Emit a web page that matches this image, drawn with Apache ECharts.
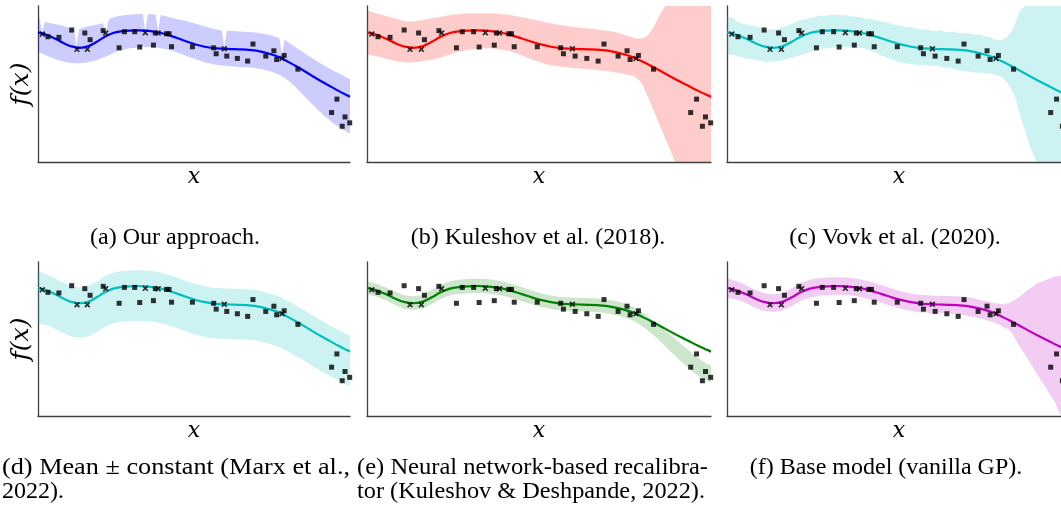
<!DOCTYPE html>
<html><head><meta charset="utf-8">
<script src="https://cdn.jsdelivr.net/npm/echarts@6/dist/echarts.min.js"></script>
<style>html,body{margin:0;padding:0;background:#fff}#c{width:1061px;height:506px}</style>
</head><body><div id="c"></div>
<script>
// ---------- data (x: 0..100 across plot, y: 0..100 up the plot) ----------
const squaresX = [3.2, 6.7, 10.8, 15.0, 16.7, 20.9, 26.0, 27.7, 31.0, 32.6, 37.0, 37.6, 41.2, 42.0, 42.8, 49.5, 56.3, 57.1, 60.5, 63.9, 67.2, 68.9, 73.0, 75.6, 76.5, 78.9, 83.3, 94.1, 95.8, 97.5, 98.4, 99.9];
const squaresY = [80.3, 79.9, 84.6, 82.7, 78.4, 84.2, 73.2, 83.5, 83.5, 73.7, 74.9, 82.7, 82.2, 82.2, 73.9, 73.9, 73.2, 69.4, 67.9, 66.4, 64.7, 75.6, 67.9, 71.3, 65.7, 68.3, 59.5, 31.7, 40.3, 22.9, 28.9, 25.1];
const crossesX = [1.4, 12.5, 15.8, 21.7, 34.4, 38.5, 59.7, 78.2];
const crossesY = [82.0, 72.2, 72.2, 82.7, 82.9, 82.7, 72.6, 66.4];

const meanX = [0, 2.7, 5.4, 8.0, 10.7, 13.4, 16.0, 18.7, 21.4, 24.1, 26.7, 29.4, 32.1, 34.8, 37.4, 40.1, 42.8, 45.5, 48.1, 50.8, 53.5, 56.1, 58.8, 61.5, 64.2, 66.8, 69.5, 72.2, 74.9, 77.5, 80.2, 82.9, 85.6, 88.2, 90.9, 93.6, 96.3, 99.0, 100];
const meanY = [83.1, 81.6, 79.2, 76.4, 74.1, 73.2, 74.1, 76.9, 80.3, 82.7, 83.7, 84.2, 84.4, 84.2, 83.5, 82.4, 80.7, 78.8, 76.9, 75.2, 73.9, 73.0, 72.6, 72.4, 72.2, 72.0, 71.5, 70.4, 68.9, 67.0, 64.2, 61.2, 58.0, 54.8, 51.6, 48.6, 45.6, 42.8, 41.8];

// (a) our approach
const aUpper = [[0,93.1],[0.4,93.1],[1.3,83.5],[2.2,89.9],[4,89.0],[7,87.8],[10.5,85.8],[11.5,85.4],[12.3,74.0],[13.2,85.3],[15.5,86.7],[19.8,88.4],[20.9,88.9],[21.7,81.0],[22.5,90.2],[23.2,92.1],[25.5,93.4],[28.3,94.2],[31,94.7],[33.6,94.9],[34.4,83.5],[35.2,94.9],[37.7,94.5],[38.5,83.5],[39.3,94.3],[41,93.4],[43.3,92.1],[47.6,90.4],[51.9,87.8],[55,86.0],[57.2,85.0],[58.9,84.4],[59.7,74.0],[60.5,84.2],[62.6,83.9],[66,83.5],[69.0,83.1],[74.3,81.4],[77.4,79.5],[78.2,68.5],[79.0,78.6],[80.7,76.0],[84.0,71.7],[86.5,68.3],[89.3,64.7],[92,61.5],[94.7,58.5],[97.5,55.8],[100,53.1]];
const aLower = [[0,70.7],[3,68.0],[5.9,65.7],[9,64.0],[12.3,63.2],[15.5,63.8],[18.7,65.3],[22,67.8],[25.1,70.7],[29,72.8],[33.7,73.9],[37.5,73.6],[41.2,72.2],[44.5,70.3],[47.6,67.9],[51,65.5],[54.0,63.6],[57,62.4],[60.5,61.5],[64.5,60.9],[69.0,60.4],[72,59.4],[75.0,57.8],[77.8,55.5],[80.0,52.5],[82,49.2],[84.0,45.0],[86.7,39.5],[89.3,34.3],[92,29.2],[94.7,24.6],[97.4,21.0],[100,18.2]];
// (b) Kuleshov et al. (2018)
const bUpper = [[0,96.4],[2.8,95.2],[5.6,93.6],[9,91.5],[12.4,90.0],[16,91.0],[19.2,92.3],[23,93.8],[27.0,94.9],[30.9,95.3],[34.8,95.3],[38.6,94.8],[41.6,94.2],[45,92.8],[48.3,91.4],[52,89.6],[56.1,87.8],[60,86.6],[63.9,85.7],[67.7,84.6],[71.7,83.5],[74.5,81.8],[76.5,80.3],[78.9,79.0],[80.5,79.6],[81.8,81.6],[83.3,86.5],[85.2,94.5],[87.2,101.7],[90,110],[100,150]];
const bLower = [[0,69.6],[3,67.8],[6,65.8],[9,64.5],[12.4,63.8],[15.5,64.2],[18.7,65.5],[22.1,67.5],[25.5,70.0],[29.9,72.0],[33.5,72.8],[36.7,72.8],[40,71.8],[43.5,69.6],[46.5,67.0],[49.3,64.6],[52.5,62.5],[56.1,61.2],[60,60.2],[65.8,59.2],[70,58.2],[74,56.8],[77.5,55.0],[79.5,51.5],[81.4,43.0],[83.3,33.0],[85.2,23.0],[87.4,11.5],[89.6,0],[92,-12],[100,-50]];
// (c) Vovk et al. (2020)
const cUpper = [[0,93.6],[0.8,92.5],[1.7,92.4],[2.6,90.6],[3.7,89.2],[4.6,88.0],[5.6,88.6],[6.6,87.4],[7.6,87.5],[8.8,86.3],[10.5,86.0],[11.8,84.8],[13.4,85.3],[14.4,84.9],[15.3,86.0],[16.5,86.4],[18.3,88.1],[19.5,88.9],[21.2,90.9],[22.5,91.2],[24.1,92.4],[25.5,92.8],[27.0,93.9],[28.8,93.7],[30.9,94.5],[32.8,94.0],[34.8,94.1],[36.5,93.2],[38.6,93.0],[40.4,91.9],[42.5,91.3],[44.3,90.2],[46.4,89.6],[48.3,88.2],[50.3,87.5],[52.2,86.3],[54.2,86.0],[56.0,84.9],[58.1,84.9],[60.0,84.0],[61.9,84.5],[63.8,83.2],[65.8,83.6],[67.7,82.4],[69.7,82.7],[71.6,81.5],[73.6,81.7],[75.0,80.4],[76.5,80.2],[77.5,78.6],[78.4,78.5],[79.4,77.9],[80.4,78.9],[81.4,80.3],[82.3,82.6],[83.1,85.5],[83.8,89.1],[84.4,92.6],[84.8,95.5],[85.3,97.0],[85.7,98.7],[86.7,99.8],[88.2,101.7],[100,112]];
const cLower = [[0,69.6],[0.9,68.6],[1.8,68.9],[2.7,68.2],[3.7,67.2],[4.6,67.4],[5.6,66.2],[6.6,66.3],[7.6,65.3],[8.5,65.5],[9.6,64.6],[10.5,64.6],[11.5,64.0],[12.6,64.5],[13.5,64.3],[14.4,64.9],[15.4,64.8],[16.4,65.6],[17.3,65.8],[18.3,66.7],[19.2,66.9],[20.2,67.8],[21.1,68.2],[22.1,69.1],[23.1,69.9],[24.0,70.3],[25.0,71.1],[26.0,71.6],[27.9,72.6],[29.9,73.0],[31.8,73.8],[33.8,73.7],[35.7,74.0],[37.7,73.2],[39.6,73.0],[41.6,71.5],[43.5,69.9],[45.4,67.8],[47.4,66.2],[49.3,64.5],[51.2,63.4],[53.2,63.0],[55.1,62.2],[57.1,62.4],[59.0,61.5],[61.0,61.8],[62.9,60.8],[64.9,60.4],[66.8,59.2],[68.7,58.2],[70.6,57.9],[72.6,57.0],[74.0,57.4],[75.5,56.5],[77.0,56.6],[78.4,55.5],[79.4,55.0],[80.4,53.3],[81.4,51.2],[82.3,48.2],[83.1,44.5],[83.8,41.0],[84.5,35.8],[85.2,30.2],[86.0,24.6],[86.7,19.5],[87.5,13.8],[88.2,9.2],[89.0,5.0],[89.6,2.0],[91.1,-6],[100,-45]];
// (d) mean +/- constant
const dUpper = [[0,93.4],[2.7,91.9],[5.4,89.5],[8.0,86.7],[10.7,84.4],[13.4,83.5],[16.0,84.4],[18.7,87.2],[21.4,90.6],[24.1,93.0],[26.7,94.0],[29.4,94.5],[32.1,94.7],[34.8,94.5],[37.4,93.8],[40.1,92.7],[42.8,91.0],[45.5,89.1],[48.1,87.2],[50.8,85.5],[53.5,84.2],[56.1,83.3],[58.8,82.9],[61.5,82.7],[64.2,82.5],[66.8,82.3],[69.5,81.8],[72.2,80.7],[74.9,79.2],[77.5,77.3],[80.2,74.5],[82.9,71.5],[85.6,68.3],[88.2,65.1],[90.9,61.9],[93.6,58.9],[96.3,55.9],[99.0,53.1],[100,52.1]];
const dLower = [[0,60.6],[2.7,59.1],[5.4,56.7],[8.0,53.9],[10.7,51.6],[13.4,50.7],[16.0,51.6],[18.7,54.4],[21.4,57.8],[24.1,60.2],[26.7,61.2],[29.4,61.7],[32.1,61.9],[34.8,61.7],[37.4,61.0],[40.1,59.9],[42.8,58.2],[45.5,56.3],[48.1,54.4],[50.8,52.7],[53.5,51.4],[56.1,50.5],[58.8,50.1],[61.5,49.9],[64.2,49.7],[66.8,49.5],[69.5,49.0],[72.2,47.9],[74.9,46.4],[77.5,44.5],[80.2,41.7],[82.9,38.7],[85.6,35.5],[88.2,32.3],[90.9,29.1],[93.6,26.1],[96.3,23.1],[99.0,20.3],[100,19.3]];
// (e) neural network-based recalibrator
const eUpper = [[0,87.2],[2.7,85.8],[5.4,83.5],[8.0,80.8],[10.7,78.6],[13.4,77.8],[16.0,78.8],[18.7,81.6],[21.4,85.0],[24.1,87.4],[26.7,88.5],[29.4,89.0],[32.1,89.2],[34.8,89.0],[37.4,88.2],[40.1,87.0],[42.8,85.2],[45.5,83.3],[48.1,81.4],[50.8,79.6],[53.5,78.3],[56.1,77.4],[58.8,77.0],[61.5,76.8],[64.2,76.6],[66.8,76.3],[69.5,75.7],[72.2,74.6],[74.9,73.0],[77.5,70.8],[80.2,67.0],[82.9,62.5],[85.6,57.8],[88.2,52.8],[90.9,47.6],[93.6,42.5],[96.3,37.6],[99.0,33.6],[100,32.8]];
const eLower = [[0,79.2],[2.7,77.6],[5.4,75.1],[8.0,72.2],[10.7,69.8],[13.4,68.9],[16.0,69.8],[18.7,72.6],[21.4,76.0],[24.1,78.3],[26.7,79.2],[29.4,79.6],[32.1,79.8],[34.8,79.6],[37.4,78.9],[40.1,77.8],[42.8,76.1],[45.5,74.2],[48.1,72.4],[50.8,70.7],[53.5,69.4],[56.1,68.5],[58.8,68.1],[61.5,67.9],[64.2,67.7],[66.8,67.4],[69.5,66.8],[72.2,65.6],[74.9,64.0],[77.5,61.8],[80.2,58.0],[82.9,53.2],[85.6,47.8],[88.2,42.0],[90.9,36.2],[93.6,30.8],[96.3,26.0],[99.0,22.6],[100,22.0]];
// (f) base model (vanilla GP)
const fUpper = [[0,89.2],[2.7,87.5],[5.4,85.1],[8.0,82.2],[10.7,79.9],[13.4,79.0],[16.0,79.9],[18.7,82.7],[21.4,86.0],[24.1,88.4],[26.7,89.4],[29.4,89.9],[32.1,90.1],[34.8,89.9],[37.4,89.2],[40.1,88.1],[42.8,86.4],[45.5,84.5],[48.1,82.6],[50.8,80.9],[53.5,79.6],[56.1,78.7],[58.8,78.3],[61.5,78.1],[64.2,77.9],[66.8,77.7],[69.5,77.2],[72.2,76.2],[74.9,74.8],[77.5,73.4],[80.2,72.7],[82.3,73.5],[84.5,76.6],[87.0,81.0],[90.1,85.9],[95.0,90.3],[97.2,91.3],[100,92.5]];
const fLower = [[0,77.3],[2.7,75.8],[5.4,73.4],[8.0,70.6],[10.7,68.4],[13.4,67.6],[16.0,68.5],[18.7,71.2],[21.4,74.6],[24.1,77.0],[26.7,78.0],[29.4,78.5],[32.1,78.7],[34.8,78.5],[37.4,77.8],[40.1,76.7],[42.8,75.0],[45.5,73.1],[48.1,71.2],[50.8,69.5],[53.5,68.2],[56.1,67.3],[58.8,66.9],[61.5,66.7],[64.2,66.4],[66.8,66.0],[69.5,65.3],[72.2,64.0],[74.9,62.6],[77.5,60.8],[80.2,58.0],[82.3,55.6],[85.2,44.8],[90.1,27.5],[95.0,10.2],[97.2,0],[100,-8]];

const xAxisTitle = 'x';
const yAxisTitle = 'f(x)';
const captionText = [
  '(a) Our approach.',
  '(b) Kuleshov et al. (2018).',
  '(c) Vovk et al. (2020).',
  '(d) Mean \u00b1 constant (Marx et al.,',
  '2022).',
  '(e) Neural network-based recalibra-',
  'tor (Kuleshov & Deshpande, 2022).',
  '(f) Base model (vanilla GP).'
];

// ---------- layout / style ----------
const panels = [
  {grid:{left:38, top:6, width:312, height:156}, color:'#0000ff', fill:'rgba(0,0,255,0.2)', up:aUpper, lo:aLower, smooth:0, ylabel:true},
  {grid:{left:367, top:6, width:344, height:156}, color:'#ff0000', fill:'rgba(255,0,0,0.2)', up:bUpper, lo:bLower, smooth:0.25},
  {grid:{left:727, top:6, width:344, height:156}, color:'#00bfbf', fill:'rgba(0,191,191,0.2)', up:cUpper, lo:cLower, smooth:0},
  {grid:{left:38, top:262, width:312, height:154}, color:'#00bfbf', fill:'rgba(0,191,191,0.2)', up:dUpper, lo:dLower, smooth:0.2, ylabel:true},
  {grid:{left:367, top:262, width:344, height:154}, color:'#008000', fill:'rgba(0,128,0,0.2)', up:eUpper, lo:eLower, smooth:0.2},
  {grid:{left:727, top:262, width:344, height:154}, color:'#bf00bf', fill:'rgba(191,0,191,0.2)', up:fUpper, lo:fLower, smooth:0.2}
];
const captionLayout = [
  {cx:175, y:238}, {cx:538, y:238}, {cx:895, y:238},
  {left:2, y:468, width:348}, {left:2, y:492},
  {left:357, y:468, width:351}, {left:357, y:492, width:348},
  {cx:886, y:468}
];
const capFont = '24px "Liberation Serif"';
const axisColor = '#404040';
const crossPath = 'path://M0,2L2,0L5,3L8,0L10,2L7,5L10,8L8,10L5,7L2,10L0,8L3,5Z';

const squares = squaresX.map((x, i) => [x, squaresY[i]]);
const crosses = crossesX.map((x, i) => [x, crossesY[i]]);
const meanLine = meanX.map((x, i) => [x, meanY[i]]);

function bandRenderer(up, lo, fill, smooth) {
  return function (params, api) {
    const pts = up.map(p => api.coord(p)).concat(lo.slice().reverse().map(p => api.coord(p)));
    const cs = params.coordSys;
    return {
      type: 'group',
      clipPath: {type: 'rect', shape: {x: cs.x, y: cs.y, width: cs.width, height: cs.height}},
      children: [{type: 'polygon', shape: {points: pts, smooth: smooth}, style: {fill: fill}}]
    };
  };
}

const grids = [], xAxes = [], yAxes = [], series = [], graphics = [];
panels.forEach((p, i) => {
  grids.push(Object.assign({containLabel: false, outerBoundsMode: 'none'}, p.grid));
  const axisCommon = {
    gridIndex: i, type: 'value', min: 0, max: 100,
    axisLine: {show: true, onZero: false, lineStyle: {color: axisColor, width: 1.3}},
    axisTick: {show: false}, axisLabel: {show: false}, splitLine: {show: false}
  };
  xAxes.push(Object.assign({}, axisCommon));
  yAxes.push(Object.assign({}, axisCommon));
  series.push({type: 'custom', xAxisIndex: i, yAxisIndex: i, clip: true, z: 1, silent: true,
    data: [[0, 0]], renderItem: bandRenderer(p.up, p.lo, p.fill, p.smooth)});
  series.push({type: 'line', xAxisIndex: i, yAxisIndex: i, data: meanLine, smooth: 0.3,
    symbol: 'none', showSymbol: false, z: 2, lineStyle: {color: p.color, width: 2.2}});
  series.push({type: 'scatter', xAxisIndex: i, yAxisIndex: i, data: squares, symbol: 'rect',
    symbolSize: 5, z: 3, itemStyle: {color: '#000'}});
  series.push({type: 'scatter', xAxisIndex: i, yAxisIndex: i, data: crosses, symbol: crossPath,
    symbolSize: 6, z: 4, itemStyle: {color: '#000'}});
  const cx = p.grid.left + p.grid.width / 2;
  graphics.push({type: 'text', x: cx, y: p.grid.top + p.grid.height + 15,
    style: {text: xAxisTitle, font: 'italic 22px "DejaVu Serif"', fill: '#000', textAlign: 'center', textVerticalAlign: 'middle'}});
  if (p.ylabel) {
    graphics.push({type: 'text', x: 21, y: p.grid.top + p.grid.height * 0.5, rotation: Math.PI / 2,
      style: {text: yAxisTitle, font: 'italic 25px "DejaVu Serif"', fill: '#000', textAlign: 'center', textVerticalAlign: 'middle'}});
  }
});

const ctx = document.createElement('canvas').getContext('2d');
ctx.font = capFont;
captionText.forEach((t, i) => {
  const L = captionLayout[i];
  if (L.cx !== undefined) {
    graphics.push({type: 'text', x: L.cx, y: L.y,
      style: {text: t, font: capFont, fill: '#000', textAlign: 'center', textVerticalAlign: 'middle'}});
  } else {
    const w = ctx.measureText(t).width;
    const sx = L.width ? L.width / w : 1;
    graphics.push({type: 'text', x: L.left, y: L.y, scaleX: sx,
      style: {text: t, font: capFont, fill: '#000', textAlign: 'left', textVerticalAlign: 'middle'}});
  }
});

const chart = echarts.init(document.getElementById('c'), null, {renderer: 'canvas'});
chart.setOption({
  animation: false,
  backgroundColor: '#fff',
  grid: grids, xAxis: xAxes, yAxis: yAxes, series: series,
  graphic: graphics
});
</script></body></html>
